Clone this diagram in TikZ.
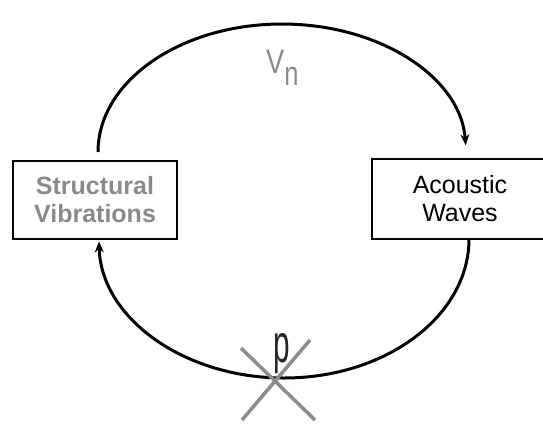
\documentclass[tikz,border=0pt]{standalone}
\usepackage{fontspec}
\setmainfont{Liberation Sans}
\usetikzlibrary{arrows.meta}
\definecolor{lbl}{HTML}{8A8A8A}
\definecolor{crossc}{HTML}{8C8C8C}
\tikzset{
  box/.style={draw=black, line width=2pt, align=center, inner sep=0pt,
    font=\fontsize{25}{28}\selectfont},
  flow/.style={line width=3pt, -{Stealth[length=11pt,width=9pt]}},
  crossline/.style={draw=crossc, line width=3.5pt}
}
\begin{document}
\begin{tikzpicture}[x=1pt,y=-1pt]
\useasboundingbox (0,0) rectangle (543,424);
\clip (0,0) rectangle (543,424);
\fill[white] (0,0) rectangle (543,424);
\node[box, text=lbl, minimum width=164pt, minimum height=78pt] (sv) at (95,200) {\textbf{Structural}\\\textbf{Vibrations}};
\node[box, minimum width=176pt, minimum height=80pt] (aw) at (460,199) {Acoustic\\Waves};
\coordinate (ts) at (98,152);
\coordinate (bs) at (469,239);
\draw[flow] (ts) arc[start angle=180, end angle=357, x radius=184, y radius=128];
\draw[flow] (bs) arc[start angle=0, end angle=179, x radius=185, y radius=139];
\node[anchor=base west, inner sep=0pt, text=lbl, font=\fontsize{34}{34}\selectfont] (vn) at (266,73) {\scalebox{0.8}[1]{V}\raisebox{-12pt}{\scalebox{0.75}[1]{n}}};
\coordinate (c1) at (241,348);
\coordinate (c2) at (315,420);
\coordinate (c3) at (310,340);
\coordinate (c4) at (242,420);
\draw[crossline] (c1) -- (c2);
\draw[crossline] (c3) -- (c4);
\node[anchor=base, inner sep=0pt, text=black!85, font=\fontsize{54}{54}\selectfont] (p) at (282,362) {\scalebox{0.55}[1]{p}};
\end{tikzpicture}
\end{document}
